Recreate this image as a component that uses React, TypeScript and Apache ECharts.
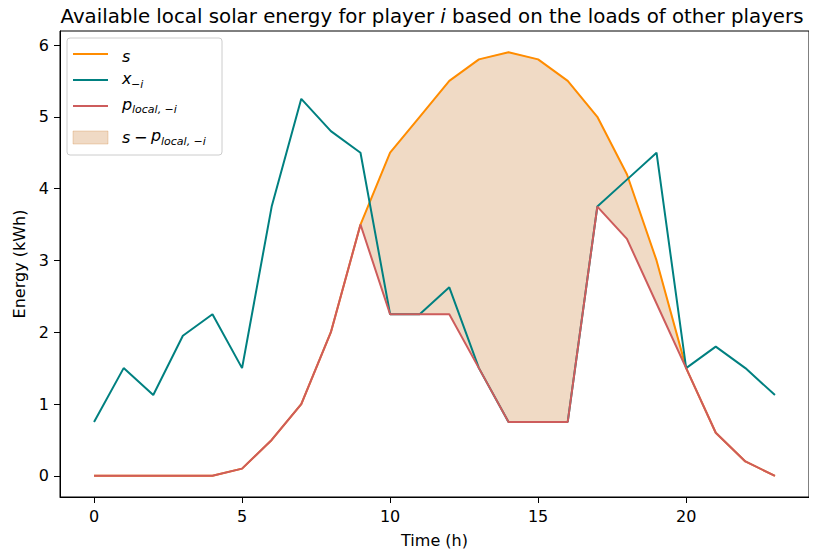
import React, { useEffect, useRef } from "react";
import * as echarts from "echarts";

const hours = [0, 1, 2, 3, 4, 5, 6, 7, 8, 9, 10, 11, 12, 13, 14, 15, 16, 17, 18, 19, 20, 21, 22, 23];
const solar = [0, 0, 0, 0, 0, 0.1, 0.5, 1.0, 2.0, 3.5, 4.5, 5.0, 5.5, 5.8, 5.9, 5.8, 5.5, 5.0, 4.2, 3.0, 1.5, 0.6, 0.2, 0];
const loadOthers = [0.75, 1.5, 1.125, 1.95, 2.25, 1.5, 3.75, 5.25, 4.8, 4.5, 2.25, 2.25, 2.625, 1.5, 0.75, 0.75, 0.75, 3.75, 4.125, 4.5, 1.5, 1.8, 1.5, 1.125];
const pLocal = [0, 0, 0, 0, 0, 0.1, 0.5, 1.0, 2.0, 3.5, 2.25, 2.25, 2.25, 1.5, 0.75, 0.75, 0.75, 3.75, 3.3, 2.4, 1.5, 0.6, 0.2, 0];
const xTicks = [0, 5, 10, 15, 20];
const yTicks = [0, 1, 2, 3, 4, 5, 6];

const FONT = "DejaVu Sans";
const FILL = "rgba(205,133,63,0.3)";

export default function App() {
  const ref = useRef<HTMLDivElement>(null);
  useEffect(() => {
    if (!ref.current) return;
    const chart = echarts.init(ref.current, null, { renderer: "svg" });
    const pair = (arr: number[]) => hours.map((h, i) => [h, arr[i]]);
    const legendText = (x: number, y: number, t: string, size: number, italic = true) => ({
      type: "text",
      x,
      y,
      z: 101,
      style: { text: t, font: `${italic ? "italic " : ""}${size}px '${FONT}'`, fill: "#000", textVerticalAlign: "middle" },
    });
    chart.setOption({
      animation: false,
      title: {
        text: "{a|Available local solar energy for player }{b|i}{a| based on the loads of other players}",
        left: 427,
        textAlign: "center",
        top: 1,
        textStyle: {
          rich: {
            a: { fontFamily: FONT, fontSize: 19.8, color: "#000", fontWeight: "normal" },
            b: { fontFamily: FONT, fontSize: 19.8, color: "#000", fontStyle: "italic", fontWeight: "normal" },
          },
        },
      },
      grid: { left: 60, right: 8, top: 31, bottom: 61, show: true, borderColor: "#000", borderWidth: 1 },
      xAxis: {
        type: "value",
        min: -1.15,
        max: 24.15,
        name: "Time (h)",
        nameLocation: "middle",
        nameGap: 35,
        nameTextStyle: { fontFamily: FONT, fontSize: 16, color: "#000" },
        splitLine: { show: false },
        axisLine: { show: true, onZero: false, lineStyle: { color: "#000" } },
        axisTick: { show: true, customValues: xTicks, length: 6, lineStyle: { color: "#000" } },
        axisLabel: { customValues: xTicks, fontFamily: FONT, fontSize: 16, color: "#000", margin: 11 },
      },
      yAxis: {
        type: "value",
        min: -0.295,
        max: 6.195,
        name: "Energy (kWh)",
        nameLocation: "middle",
        nameGap: 32,
        nameTextStyle: { fontFamily: FONT, fontSize: 16, color: "#000" },
        splitLine: { show: false },
        axisLine: { show: true, onZero: false, lineStyle: { color: "#000" } },
        axisTick: { show: true, customValues: yTicks, length: 6, lineStyle: { color: "#000" } },
        axisLabel: { customValues: yTicks, fontFamily: FONT, fontSize: 16, color: "#000", margin: 11 },
      },
      series: [
        {
          type: "custom",
          name: "fill",
          data: [0],
          silent: true,
          z: 1,
          renderItem: (_params: any, api: any) => {
            const top = hours.map((h, i) => api.coord([h, solar[i]]));
            const bottom = hours.map((h, i) => api.coord([h, pLocal[i]])).reverse();
            return {
              type: "polygon",
              shape: { points: top.concat(bottom) },
              style: { fill: FILL, stroke: FILL, lineWidth: 1 },
            };
          },
        },
        { type: "line", name: "s", data: pair(solar), symbol: "none", lineStyle: { color: "#FF8C00", width: 2 }, z: 3 },
        { type: "line", name: "x", data: pair(loadOthers), symbol: "none", lineStyle: { color: "#008080", width: 2 }, z: 4 },
        { type: "line", name: "p", data: pair(pLocal), symbol: "none", lineStyle: { color: "#CD5C5C", width: 2 }, z: 5 },
      ],
      graphic: [
        {
          type: "rect",
          z: 100,
          shape: { x: 67, y: 38, width: 155, height: 117, r: 3 },
          style: { fill: "rgba(255,255,255,0.8)", stroke: "#cccccc", lineWidth: 1 },
        },
        { type: "line", z: 101, shape: { x1: 73, y1: 54, x2: 108, y2: 54 }, style: { stroke: "#FF8C00", lineWidth: 2 } },
        { type: "line", z: 101, shape: { x1: 73, y1: 80, x2: 108, y2: 80 }, style: { stroke: "#008080", lineWidth: 2 } },
        { type: "line", z: 101, shape: { x1: 73, y1: 106, x2: 108, y2: 106 }, style: { stroke: "#CD5C5C", lineWidth: 2 } },
        {
          type: "rect",
          z: 101,
          shape: { x: 73, y: 131, width: 35, height: 13 },
          style: { fill: FILL, stroke: FILL },
        },
        legendText(122, 56, "s", 16),
        legendText(122, 78, "x", 16),
        legendText(131, 84, "−i", 11),
        legendText(122, 104, "p", 16),
        legendText(132, 109, "local, −i", 11),
        legendText(122, 137, "s", 16),
        legendText(134, 137, "−", 16, false),
        legendText(151, 135, "p", 16),
        legendText(161, 141, "local, −i", 11),
      ],
    });
    return () => chart.dispose();
  }, []);
  return <div ref={ref} style={{ width: 817, height: 558, margin: -8 }} />;
}
